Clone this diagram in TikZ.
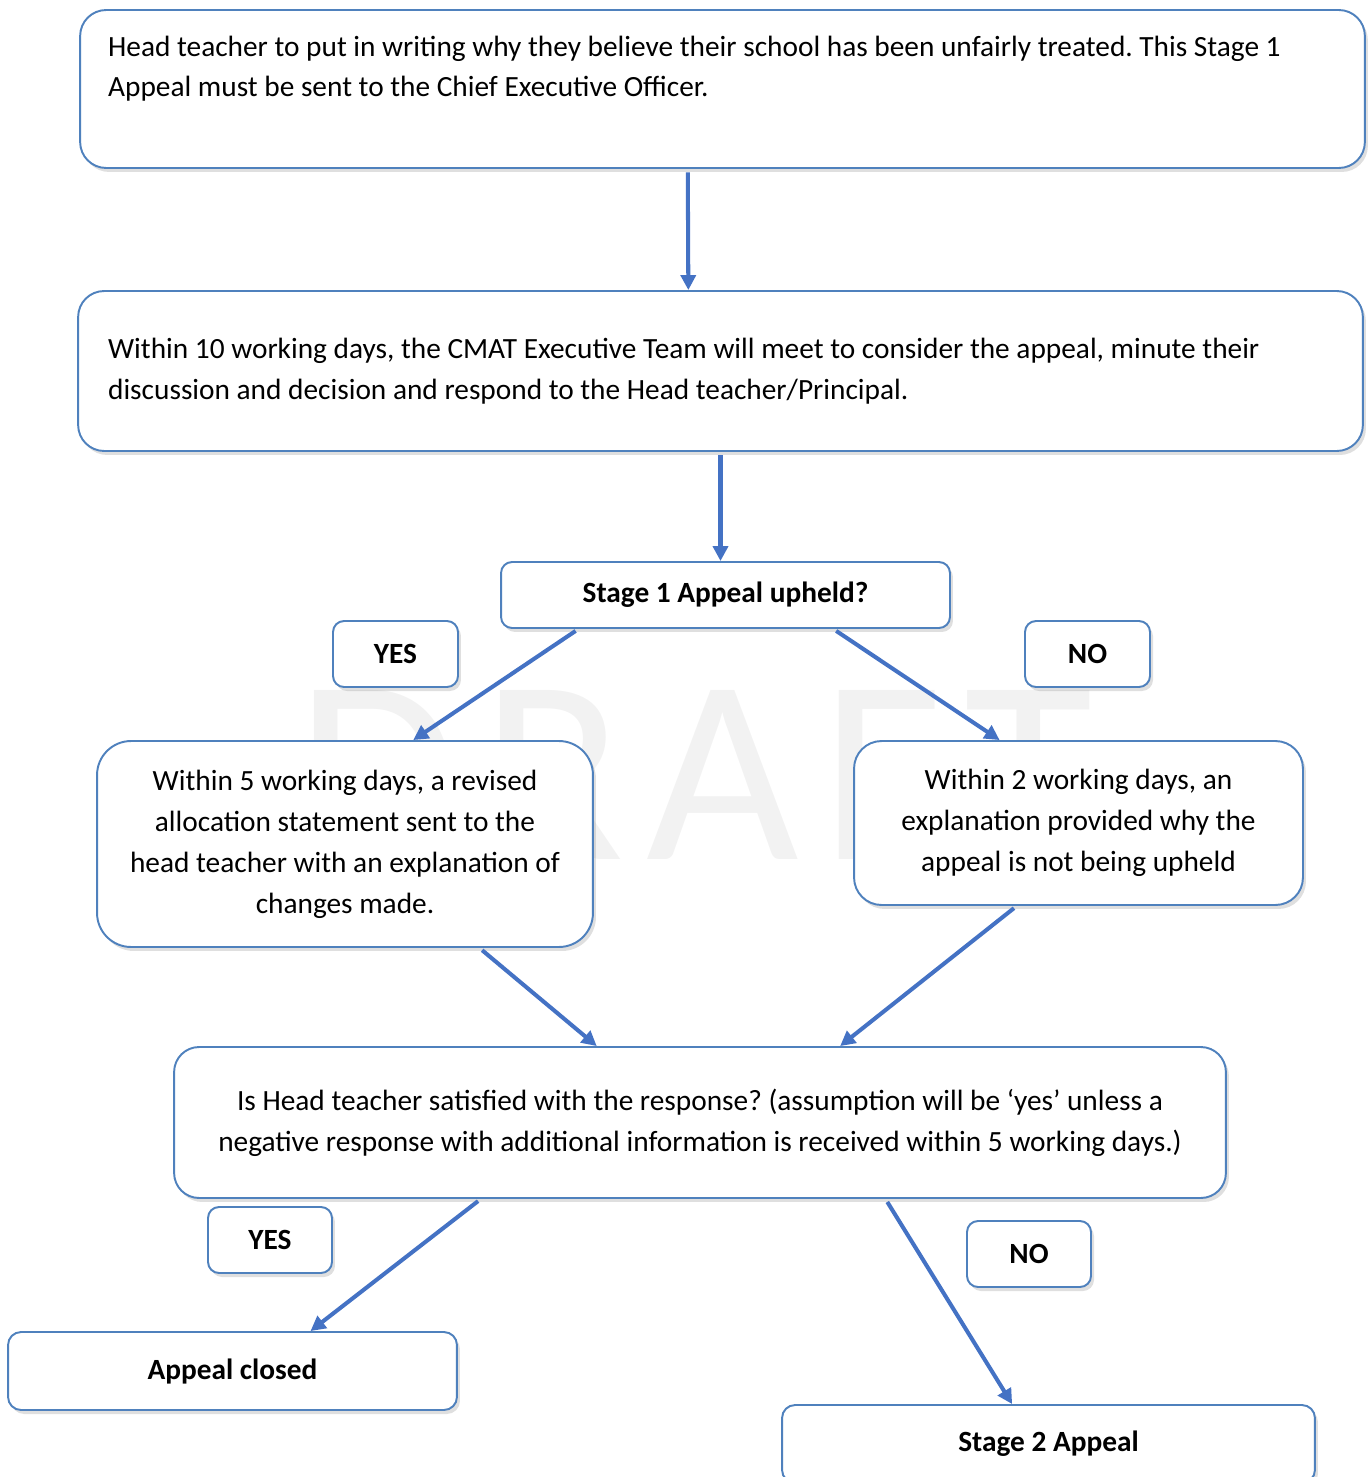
\documentclass[tikz,border=0pt]{standalone}
\usepackage{fontspec}
\setmainfont{Carlito}
\usetikzlibrary{arrows.meta,calc,shadows}
\definecolor{boxblue}{RGB}{79,129,189}
\definecolor{arrowblue}{RGB}{68,114,196}
\newcommand{\bodysize}{\fontsize{16.7}{23.3}\selectfont}

\tikzset{
    box/.style={draw=boxblue, line width=1.1pt, fill=white, inner sep=0pt, align=center,
        drop shadow={shadow xshift=0.06cm, shadow yshift=-0.08cm, opacity=0.25, fill=black!50}},
    flow/.style={draw=arrowblue, line width=2.3pt, shorten <=2pt,
        -{Triangle[length=0.3cm,width=0.3cm]}},
}

\begin{document}
\frenchspacing
\begin{tikzpicture}[x=0.02cm, y=-0.02cm, font=\bodysize]
    \useasboundingbox (0,0) rectangle (1370,1477);
    \clip (0,0) rectangle (1370,1477);
    % watermark
    \node[text=black!5, inner sep=0pt, font=\fontsize{150}{150}\selectfont\addfontfeature{LetterSpace=8.5}] (draft) at (695,775) {DRAFT};
    % boxes
    \node[box, minimum width=25.7cm, minimum height=3.16cm, rounded corners=0.52cm,
        text width=24.58cm, align=flush left] (appeal) at (722.5,89)
        {Head teacher to put in writing why they believe their school has been unfairly treated. This Stage 1\\
         Appeal must be sent to the Chief Executive Officer.\\[-4.5pt]\strut};
    \node[box, minimum width=25.7cm, minimum height=3.2cm, rounded corners=0.52cm,
        text width=24.5cm, align=flush left] (meeting) at (720.5,371)
        {Within 10 working days, the CMAT Executive Team will meet to consider the appeal, minute their\\
         discussion and decision and respond to the Head teacher/Principal.};
    \node[box, minimum width=8.98cm, minimum height=1.32cm, rounded corners=0.22cm,
        font=\bodysize\bfseries] (upheld) at (725.5,595) {Stage 1 Appeal upheld?};
    \node[box, minimum width=2.5cm, minimum height=1.32cm, rounded corners=0.22cm,
        font=\bodysize\bfseries] (yesa) at (395.5,654) {YES};
    \node[box, minimum width=2.5cm, minimum height=1.32cm, rounded corners=0.22cm,
        font=\bodysize\bfseries] (noa) at (1087.5,654) {NO};
    \node[box, minimum width=9.92cm, minimum height=4.12cm, rounded corners=0.68cm] (revised) at (345,844)
        {Within 5 working days, a revised\\allocation statement sent to the\\
         head teacher with an explanation of\\changes made.};
    \node[box, minimum width=8.98cm, minimum height=3.28cm, rounded corners=0.55cm] (explain) at (1078.5,823)
        {Within 2 working days, an\\explanation provided why the\\appeal is not being upheld};
    \node[box, minimum width=21.04cm, minimum height=3.02cm, rounded corners=0.5cm] (satisfied) at (700,1122.5)
        {Is Head teacher satisfied with the response? (assumption will be ‘yes’ unless a\\
         negative response with additional information is received within 5 working days.)};
    \node[box, minimum width=2.48cm, minimum height=1.32cm, rounded corners=0.22cm,
        font=\bodysize\bfseries] (yesb) at (270,1240) {YES};
    \node[box, minimum width=2.48cm, minimum height=1.32cm, rounded corners=0.22cm,
        font=\bodysize\bfseries] (nob) at (1029,1254) {NO};
    \node[box, minimum width=8.98cm, minimum height=1.56cm, rounded corners=0.26cm,
        font=\bodysize\bfseries] (closed) at (232.5,1371) {Appeal closed};
    \node[box, minimum width=10.66cm, minimum height=1.56cm, rounded corners=0.26cm,
        font=\bodysize\bfseries] (stagetwo) at (1048.5,1444) {Stage 2 Appeal};
    % connectors
    \draw[flow] ($(appeal.south west)!0.473!(appeal.south east)$) -- ($(meeting.north west)!0.475!(meeting.north east)$);
    \draw[flow] (meeting.south) -- (meeting.south |- upheld.north);
    \draw[flow] ($(upheld.south west)!0.174!(upheld.south east)$) -- ($(revised.north west)!0.637!(revised.north east)$);
    \draw[flow] ($(upheld.south west)!0.739!(upheld.south east)$) -- ($(explain.north west)!0.325!(explain.north east)$);
    \draw[flow] ($(revised.south west)!0.77!(revised.south east)$) -- ($(satisfied.north west)!0.402!(satisfied.north east)$);
    \draw[flow] ($(explain.south west)!0.363!(explain.south east)$) -- ($(satisfied.north west)!0.633!(satisfied.north east)$);
    \draw[flow] ($(satisfied.south west)!0.292!(satisfied.south east)$) -- ($(closed.north west)!0.673!(closed.north east)$);
    \draw[flow] ($(satisfied.south west)!0.676!(satisfied.south east)$) -- ($(stagetwo.north west)!0.432!(stagetwo.north east)$);
\end{tikzpicture}
\end{document}
